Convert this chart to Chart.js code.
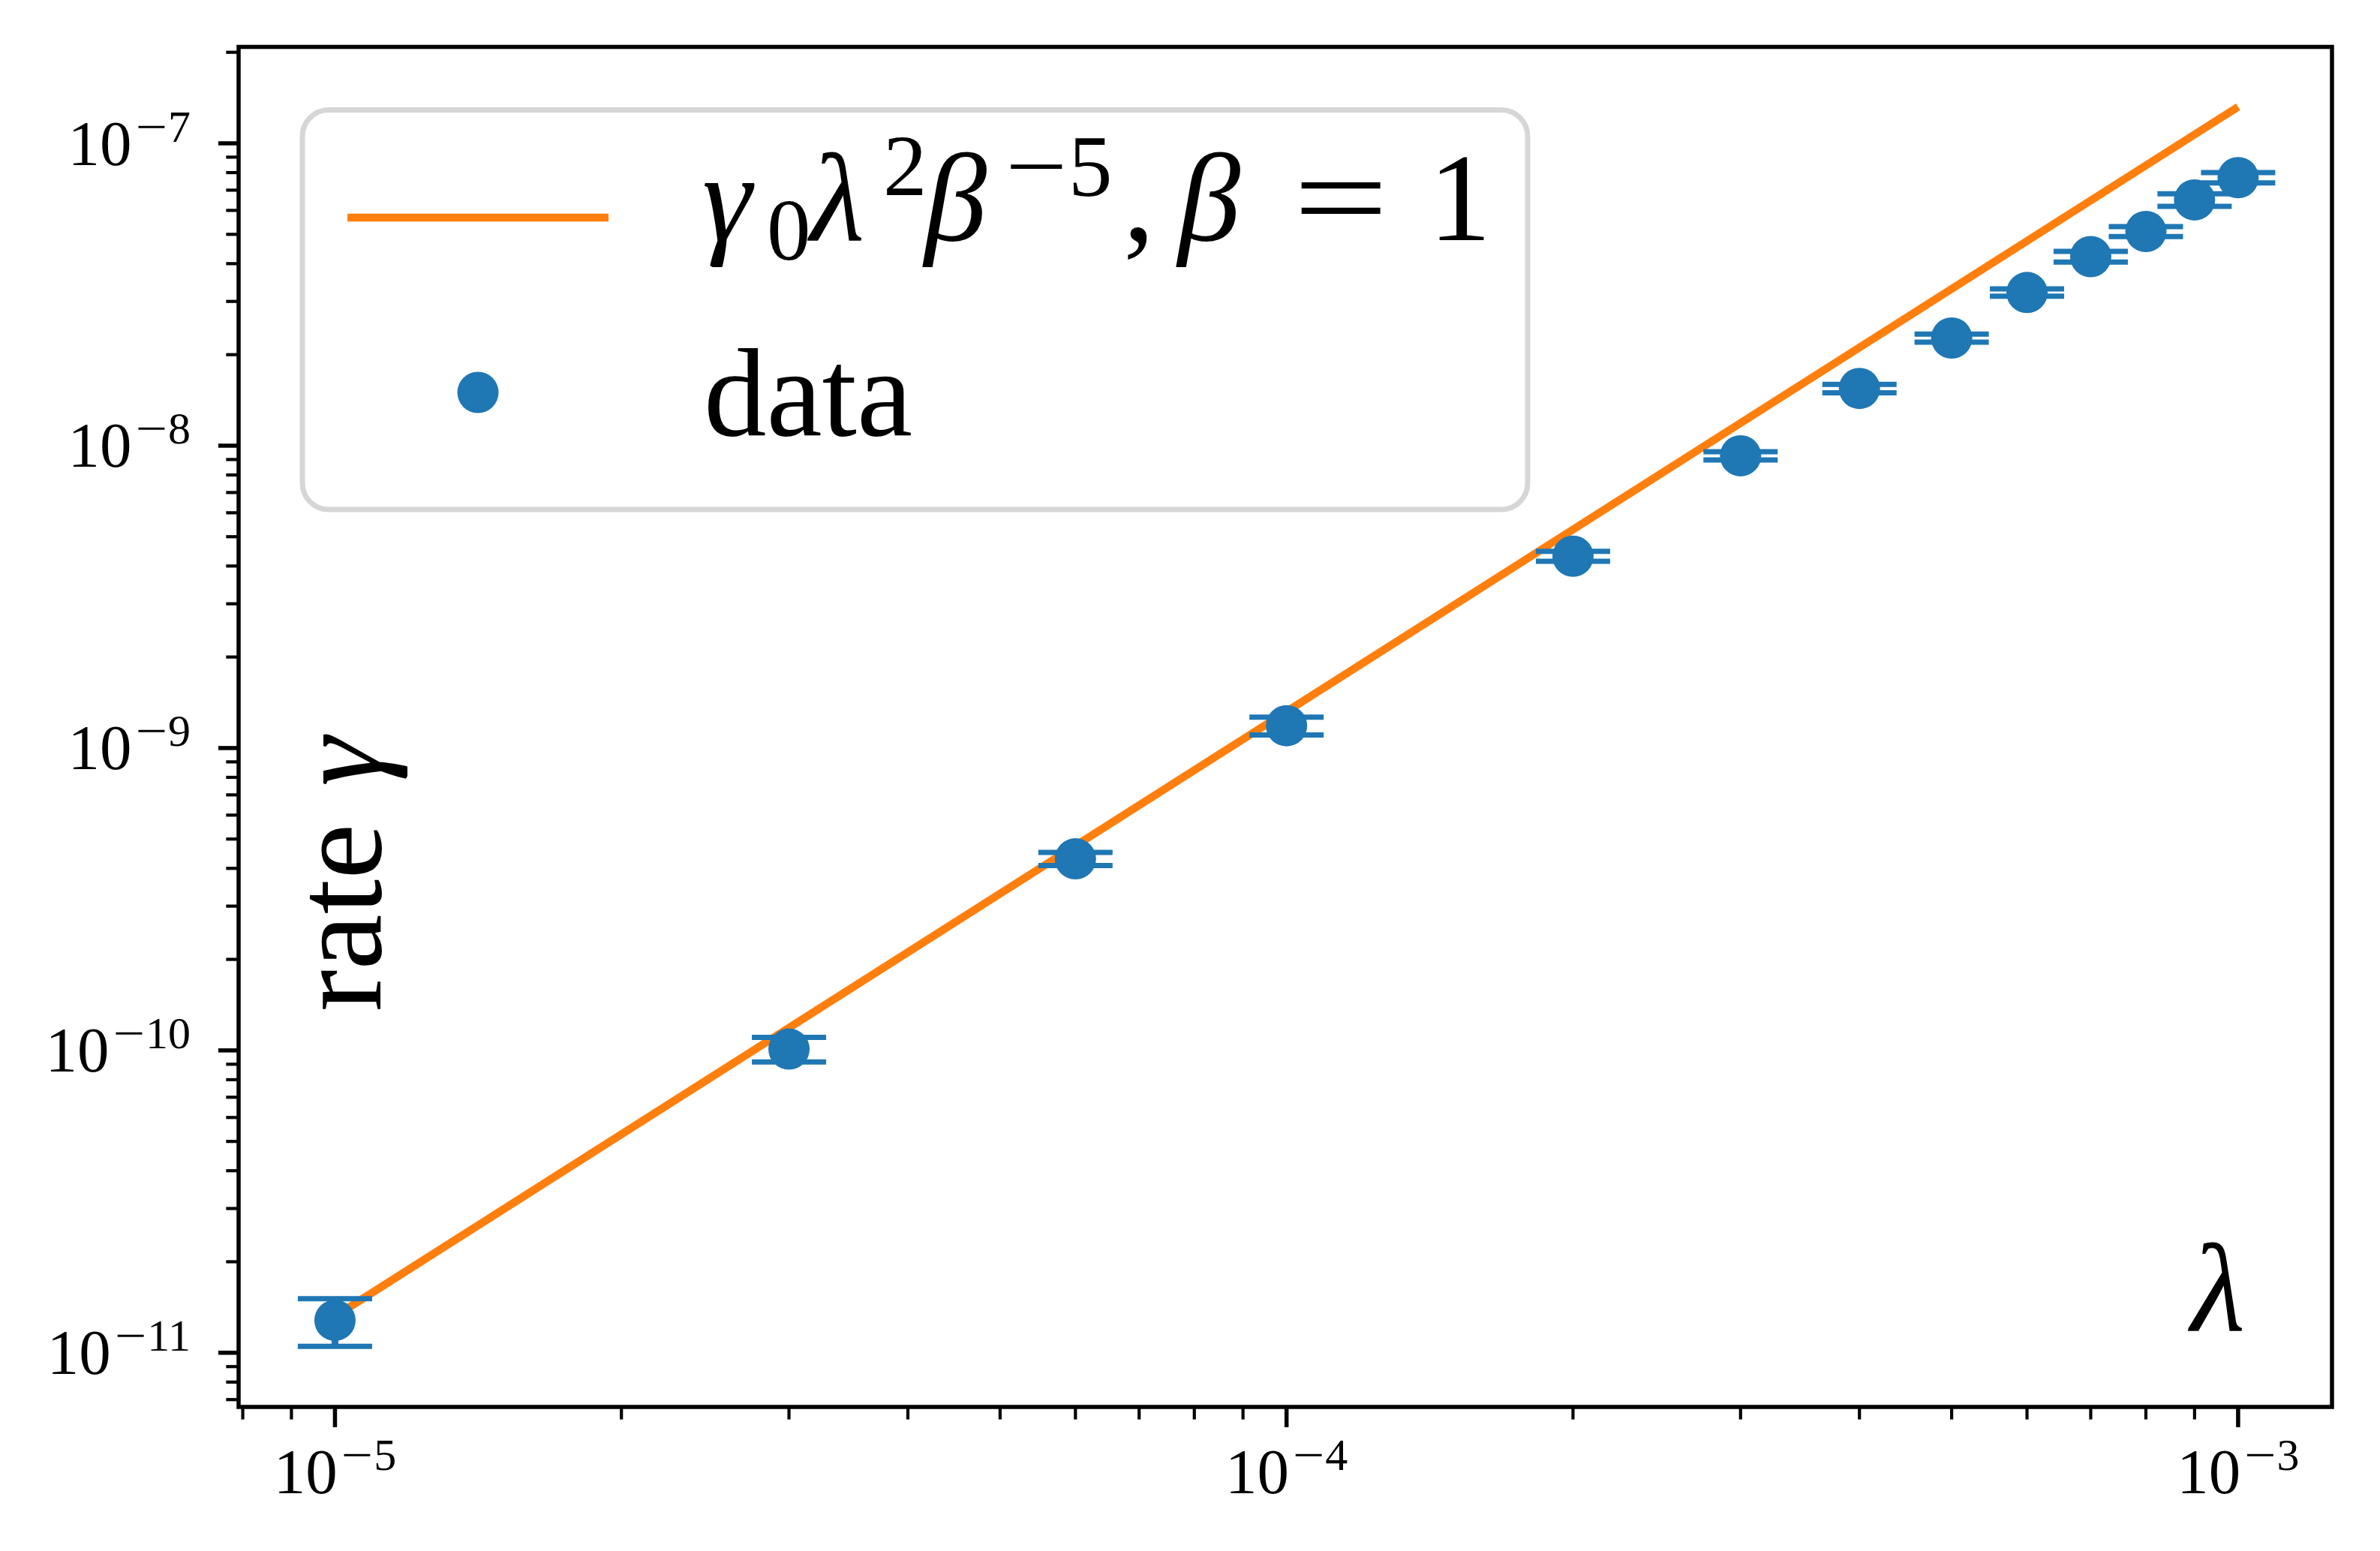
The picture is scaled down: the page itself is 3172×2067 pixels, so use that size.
<!DOCTYPE html>
<html><head><meta charset="utf-8">
<script src="https://cdn.jsdelivr.net/npm/chart.js@4.4.1/dist/chart.umd.min.js"></script>
<style>html,body{margin:0;padding:0;background:#fff;} canvas{display:block;}</style>
</head><body>
<canvas id="c" width="3172" height="2067"></canvas>
<script>
// ---- data ----
const lambdaValues = [1e-5, 3e-5, 6e-5, 1e-4, 2e-4, 3e-4, 4e-4, 5e-4, 6e-4, 7e-4, 8e-4, 9e-4, 1e-3];
const rateValues   = [1.28e-11, 1.01e-10, 4.30e-10, 1.185e-9, 4.31e-9, 9.26e-9, 1.546e-8, 2.27e-8, 3.21e-8, 4.22e-8, 5.11e-8, 6.50e-8, 7.70e-8];
const rateErrors   = [0.23e-11, 0.094e-10, 0.215e-10, 0.08e-9, 0.165e-9, 0.29e-9, 0.05e-8, 0.07e-8, 0.09e-8, 0.17e-8, 0.195e-8, 0.31e-8, 0.305e-8];
const fitLambda    = [1e-5, 1e-3];
const fitRate      = [1.32e-11, 1.32e-7];
const xTickExponents = [-5, -4, -3];
const yTickExponents = [-11, -10, -9, -8, -7];
const xLimits = [7.92e-6, 1.255e-3];
const yLimits = [6.62e-12, 2.084e-7];
const seriesLabels = ['fit', 'data'];

const BLUE = '#1f77b4', ORANGE = '#ff7f0e';
const SERIF = '"Liberation Serif", "DejaVu Serif", serif';

function minorTicks(lim) {
  const out = [];
  const n0 = Math.floor(Math.log10(lim[0])), n1 = Math.ceil(Math.log10(lim[1]));
  for (let n = n0; n <= n1; n++) for (let m = 1; m <= 9; m++) {
    const v = m * Math.pow(10, n);
    if (v >= lim[0] && v <= lim[1]) out.push({v, major: m === 1});
  }
  return out;
}

// draw a minus sign stretched to TeX-like width; returns advance
function drawMinus(ctx, font, size, x, y) {
  ctx.font = font;
  const w = ctx.measureText('\u2212').width;
  const target = 0.74 * size;
  ctx.save();
  ctx.translate(x + (target - w * 1.25) / 2, y);
  ctx.scale(1.25, 1);
  ctx.fillText('\u2212', 0, 0);
  ctx.restore();
  return target;
}

const overlay = {
  id: 'overlay',
  afterDatasetsDraw(chart) {
    const ctx = chart.ctx, xs = chart.scales.x, ys = chart.scales.y;
    ctx.save();
    ctx.strokeStyle = BLUE;
    for (let i = 0; i < lambdaValues.length; i++) {
      const px = xs.getPixelForValue(lambdaValues[i]);
      const pu = ys.getPixelForValue(rateValues[i] + rateErrors[i]);
      const pl = ys.getPixelForValue(rateValues[i] - rateErrors[i]);
      ctx.lineWidth = 9;
      ctx.beginPath(); ctx.moveTo(px, pu); ctx.lineTo(px, pl); ctx.stroke();
      ctx.lineWidth = 7;
      ctx.beginPath();
      ctx.moveTo(px - 49.5, pu); ctx.lineTo(px + 49.5, pu);
      ctx.moveTo(px - 49.5, pl); ctx.lineTo(px + 49.5, pl);
      ctx.stroke();
    }
    ctx.restore();
  },
  afterDraw(chart) {
    const ctx = chart.ctx, a = chart.chartArea, xs = chart.scales.x, ys = chart.scales.y;
    ctx.save();
    // frame
    ctx.strokeStyle = '#000'; ctx.lineWidth = 5.5;
    ctx.strokeRect(a.left, a.top, a.right - a.left, a.bottom - a.top);
    // ticks
    ctx.lineCap = 'butt';
    for (const t of minorTicks(xLimits)) {
      const p = xs.getPixelForValue(t.v);
      ctx.lineWidth = t.major ? 5.5 : 4.2;
      const len = t.major ? 24.3 : 13.9;
      ctx.beginPath(); ctx.moveTo(p, a.bottom); ctx.lineTo(p, a.bottom + 2.75 + len); ctx.stroke();
    }
    for (const t of minorTicks(yLimits)) {
      const p = ys.getPixelForValue(t.v);
      ctx.lineWidth = t.major ? 5.5 : 4.2;
      const len = t.major ? 24.3 : 13.9;
      ctx.beginPath(); ctx.moveTo(a.left, p); ctx.lineTo(a.left - 2.75 - len, p); ctx.stroke();
    }
    // tick labels
    ctx.fillStyle = '#000';
    ctx.textBaseline = 'alphabetic'; ctx.textAlign = 'left';
    const mainF = '85px ' + SERIF, supF = '60px ' + SERIF;
    function labelW(e) {
      ctx.font = mainF; const w1 = ctx.measureText('10').width;
      ctx.font = supF; const w2 = 0.74 * 60 + ctx.measureText(String(Math.abs(e))).width;
      return w1 + 4 + w2;
    }
    function drawLabel(e, x, base) {
      ctx.font = mainF; const w1 = ctx.measureText('10').width;
      ctx.fillText('10', x, base);
      const adv = drawMinus(ctx, supF, 60, x + w1 + 4, base - 31);
      ctx.font = supF; ctx.fillText(String(Math.abs(e)), x + w1 + 4 + adv, base - 31);
    }
    for (const e of xTickExponents) {
      const p = xs.getPixelForValue(Math.pow(10, e));
      drawLabel(e, p - labelW(e) / 2, 1990);
    }
    for (const e of yTickExponents) {
      const p = ys.getPixelForValue(Math.pow(10, e));
      drawLabel(e, 254 - labelW(e), p + 28.5);
    }
    // y title inside the axes
    ctx.save();
    ctx.translate(506.7, 1348); ctx.rotate(-Math.PI / 2);
    ctx.font = '167px ' + SERIF; ctx.fillText('rate', 0, 0);
    ctx.font = 'italic 167px ' + SERIF; ctx.fillText('\u03b3', 300, 0);
    ctx.restore();
    // x title inside the axes
    ctx.font = 'italic 167px ' + SERIF; ctx.fillText('\u03bb', 2920, 1773);
    // legend
    ctx.beginPath();
    ctx.roundRect(403, 146.5, 1633, 532.5, 35);
    ctx.fillStyle = 'rgba(255,255,255,0.8)'; ctx.fill();
    ctx.strokeStyle = '#d6d6d6'; ctx.lineWidth = 7; ctx.stroke();
    ctx.strokeStyle = ORANGE; ctx.lineWidth = 10.5;
    ctx.beginPath(); ctx.moveTo(463, 290); ctx.lineTo(811, 290); ctx.stroke();
    ctx.fillStyle = BLUE;
    ctx.beginPath(); ctx.arc(637, 523, 27.5, 0, Math.PI * 2); ctx.fill();
    ctx.fillStyle = '#000';
    const big = '167px ' + SERIF, bigI = 'italic 167px ' + SERIF, small = '117px ' + SERIF;
    const pieces = [
      [bigI, '\u03b3', 936, 320], [small, '0', 1022, 346], [bigI, '\u03bb', 1080, 320],
      [small, '2', 1177, 260], [bigI, '\u03b2', 1232, 320], [small, '5', 1424, 261],
      [big, ',', 1497, 320], [bigI, '\u03b2', 1570, 320], [big, '1', 1904, 320]
    ];
    for (const [f, t, x, y] of pieces) { ctx.font = f; ctx.fillText(t, x, y); }
    drawMinus(ctx, small, 117, 1338, 261);
    // wide TeX-like equals sign
    ctx.font = big;
    const we = ctx.measureText('=').width;
    ctx.save(); ctx.translate(1787 - we * 1.35 / 2, 320); ctx.scale(1.35, 1); ctx.fillText('=', 0, 0); ctx.restore();
    ctx.font = big; ctx.fillText(seriesLabels[1], 938, 580);
    ctx.restore();
  }
};

new Chart(document.getElementById('c'), {
  type: 'scatter',
  data: {
    datasets: [
      { label: seriesLabels[1], data: lambdaValues.map((x, i) => ({x, y: rateValues[i]})),
        backgroundColor: BLUE, borderWidth: 0, pointRadius: 27.5, pointHoverRadius: 27.5, order: 0 },
      { label: seriesLabels[0], type: 'line', data: fitLambda.map((x, i) => ({x, y: fitRate[i]})),
        borderColor: ORANGE, borderWidth: 10.5, pointRadius: 0, fill: false, tension: 0, order: 1 }
    ]
  },
  options: {
    responsive: false, animation: false, devicePixelRatio: 1,
    layout: { padding: { left: 318, right: 64, top: 62.5, bottom: 192 } },
    plugins: { legend: { display: false }, tooltip: { enabled: false } },
    scales: {
      x: { type: 'logarithmic', display: false, min: xLimits[0], max: xLimits[1] },
      y: { type: 'logarithmic', display: false, min: yLimits[0], max: yLimits[1] }
    }
  },
  plugins: [overlay]
});
</script>
</body></html>
